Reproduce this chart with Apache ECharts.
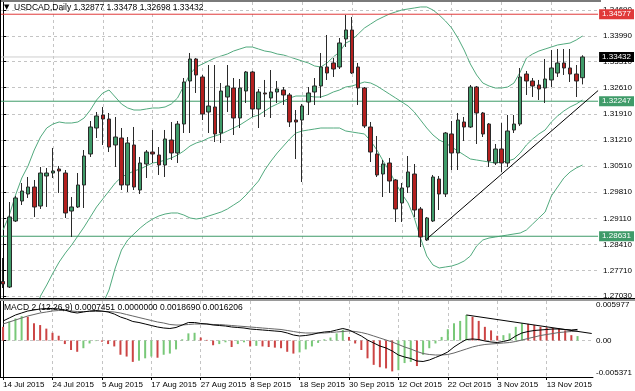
<!DOCTYPE html>
<html><head><meta charset="utf-8">
<script src="https://cdn.jsdelivr.net/npm/echarts@6/dist/echarts.min.js"></script>
<style>html,body{margin:0;padding:0;background:#fff}#c{width:635px;height:391px}</style>
</head><body><div id="c"></div>
<script>
const dates = [
'14 Jul 2015','15 Jul 2015','16 Jul 2015','17 Jul 2015','20 Jul 2015','21 Jul 2015','22 Jul 2015','23 Jul 2015','24 Jul 2015','27 Jul 2015','28 Jul 2015','29 Jul 2015','30 Jul 2015','31 Jul 2015',
'3 Aug 2015','4 Aug 2015','5 Aug 2015','6 Aug 2015','7 Aug 2015','10 Aug 2015','11 Aug 2015','12 Aug 2015','13 Aug 2015','14 Aug 2015','17 Aug 2015','18 Aug 2015','19 Aug 2015','20 Aug 2015','21 Aug 2015','24 Aug 2015','25 Aug 2015','26 Aug 2015','27 Aug 2015','28 Aug 2015','31 Aug 2015',
'1 Sep 2015','2 Sep 2015','3 Sep 2015','4 Sep 2015','7 Sep 2015','8 Sep 2015','9 Sep 2015','10 Sep 2015','11 Sep 2015','14 Sep 2015','15 Sep 2015','16 Sep 2015','17 Sep 2015','18 Sep 2015','21 Sep 2015','22 Sep 2015','23 Sep 2015','24 Sep 2015','25 Sep 2015','28 Sep 2015','29 Sep 2015','30 Sep 2015',
'1 Oct 2015','2 Oct 2015','5 Oct 2015','6 Oct 2015','7 Oct 2015','8 Oct 2015','9 Oct 2015','12 Oct 2015','13 Oct 2015','14 Oct 2015','15 Oct 2015','16 Oct 2015','19 Oct 2015','20 Oct 2015','21 Oct 2015','22 Oct 2015','23 Oct 2015','26 Oct 2015','27 Oct 2015','28 Oct 2015','29 Oct 2015','30 Oct 2015',
'2 Nov 2015','3 Nov 2015','4 Nov 2015','5 Nov 2015','6 Nov 2015','9 Nov 2015','10 Nov 2015','11 Nov 2015','12 Nov 2015','13 Nov 2015','16 Nov 2015','17 Nov 2015','18 Nov 2015','19 Nov 2015','20 Nov 2015'];
const tickIdx = [0,8,16,24,32,40,48,56,64,72,80,88];
const tickLabels = ['14 Jul 2015','24 Jul 2015','5 Aug 2015','17 Aug 2015','27 Aug 2015','8 Sep 2015','18 Sep 2015','30 Sep 2015','12 Oct 2015','22 Oct 2015','3 Nov 2015','13 Nov 2015'];
const priceTicks = [1.27030,1.27710,1.28410,1.29110,1.29810,1.30510,1.31210,1.31910,1.32610,1.33310,1.33990,1.34690];

const open = [
1.27419,1.27272,1.29040,1.29575,1.29763,1.29950,1.29441,1.30245,1.30325,1.30432,
1.30325,1.29307,1.29415,1.30004,1.30834,1.31530,1.31878,1.31771,1.31075,1.31262,
1.30004,1.31075,1.29870,1.30566,1.30887,1.30807,1.30539,1.31209,1.30861,1.31637,
1.32789,1.33378,1.32896,1.31959,1.32093,1.31396,1.32360,1.32601,1.31798,1.32521,
1.33030,1.32039,1.32468,1.32334,1.32494,1.32548,1.32414,1.31744,1.31744,1.32226,
1.32494,1.32655,1.33164,1.33271,1.33164,1.33914,1.34155,1.33164,1.32601,1.31557,
1.30834,1.30298,1.30593,1.30138,1.29522,1.29950,1.30298,1.29361,1.28531,1.29040,
1.30164,1.29763,1.31370,1.30861,1.31691,1.31557,1.32628,1.31932,1.31637,1.30593,
1.30968,1.30593,1.31477,1.31637,1.32976,1.32789,1.32682,1.32601,1.32816,1.33003,
1.33271,1.33137,1.32976,1.32877];
const high = [
1.28049,1.29548,1.29709,1.30057,1.30218,1.30138,1.30486,1.30459,1.30995,1.30513,
1.30405,1.29682,1.30325,1.30941,1.31718,1.31959,1.32093,1.31932,1.31825,1.31530,
1.31289,1.31557,1.30754,1.30941,1.31477,1.31021,1.31477,1.31691,1.31718,1.32869,
1.33539,1.33405,1.32950,1.33217,1.33217,1.32735,1.33217,1.32869,1.32842,1.33057,
1.33057,1.32575,1.32816,1.33083,1.32789,1.32628,1.32468,1.32012,1.32173,1.32628,
1.32869,1.33539,1.34021,1.33405,1.33940,1.34556,1.34503,1.33271,1.32628,1.31691,
1.31316,1.30673,1.30727,1.30164,1.30057,1.30780,1.30566,1.29415,1.29147,1.30272,
1.30245,1.31423,1.31718,1.31932,1.31825,1.32682,1.32655,1.31959,1.31664,1.31102,
1.31664,1.31878,1.31878,1.33137,1.33057,1.32869,1.32816,1.33378,1.33619,1.33646,
1.33646,1.33646,1.33217,1.33478];
const low = [
1.27245,1.27245,1.29013,1.29468,1.29656,1.29147,1.29361,1.29415,1.30191,1.29790,
1.29120,1.28611,1.29388,1.29388,1.30754,1.31262,1.31075,1.30887,1.30486,1.29870,
1.29816,1.29870,1.29763,1.30191,1.30593,1.30272,1.30218,1.30673,1.30593,1.31396,
1.31396,1.32468,1.31744,1.31396,1.31155,1.31129,1.31959,1.31343,1.31530,1.32200,
1.31825,1.31530,1.31825,1.31798,1.32200,1.32146,1.31557,1.30700,1.30084,1.31878,
1.32146,1.32334,1.32816,1.32896,1.33110,1.33699,1.32976,1.32146,1.31530,1.30620,
1.30218,1.29682,1.29790,1.29013,1.29013,1.29790,1.29147,1.28343,1.28504,1.29013,
1.29334,1.29682,1.30405,1.30405,1.31182,1.31530,1.31102,1.31289,1.30486,1.30539,
1.30352,1.30486,1.31396,1.31584,1.32414,1.32360,1.32280,1.32200,1.32628,1.32896,
1.32950,1.32762,1.32360,1.32698];
const close = [
1.27353,1.29147,1.29656,1.29843,1.29950,1.29415,1.30325,1.30325,1.30379,1.30379,
1.29254,1.29415,1.30004,1.30780,1.31557,1.31852,1.31771,1.31021,1.31289,1.30004,
1.31129,1.29950,1.30593,1.30887,1.30834,1.30539,1.31236,1.30861,1.31637,1.32762,
1.33378,1.32950,1.31905,1.32119,1.31370,1.32521,1.32655,1.31798,1.32601,1.33030,
1.32039,1.32494,1.32441,1.32494,1.32575,1.32414,1.31691,1.31691,1.32119,1.32468,
1.32655,1.33164,1.33003,1.33110,1.33807,1.34155,1.33003,1.32601,1.31584,1.30887,
1.30272,1.30566,1.30111,1.29361,1.29923,1.30352,1.29334,1.28611,1.29120,1.30218,
1.29763,1.31396,1.30861,1.31744,1.31557,1.32628,1.31932,1.31370,1.30646,1.30968,
1.30593,1.31450,1.31637,1.32896,1.32789,1.32655,1.32575,1.32842,1.33137,1.33271,
1.33137,1.32976,1.32789,1.33432];

const bbUpper = [
1.28799,1.29200,1.29736,1.30191,1.30513,1.30941,1.31289,1.31530,1.31637,1.31691,
1.31664,1.31664,1.31691,1.31798,1.32012,1.32280,1.32468,1.32548,1.32360,1.32173,
1.32066,1.32012,1.32012,1.32039,1.32066,1.32066,1.32093,1.32173,1.32334,1.32655,
1.32976,1.33164,1.33244,1.33324,1.33405,1.33458,1.33512,1.33592,1.33646,1.33699,
1.33699,1.33646,1.33592,1.33565,1.33512,1.33485,1.33432,1.33378,1.33324,1.33271,
1.33191,1.33164,1.33271,1.33432,1.33565,1.33806,1.33887,1.34048,1.34208,1.34315,
1.34422,1.34503,1.34583,1.34637,1.34690,1.34717,1.34744,1.34771,1.34771,1.34690,
1.34556,1.34396,1.34208,1.33940,1.33619,1.33244,1.32950,1.32735,1.32655,1.32601,
1.32601,1.32628,1.32735,1.33030,1.33405,1.33512,1.33592,1.33646,1.33699,1.33753,
1.33780,1.33806,1.33887,1.33994];
const bbMiddle = [
1.25600,1.25750,1.25920,1.26110,1.26300,1.26500,1.27031,1.27326,1.27647,1.27942,
1.28183,1.28397,1.28638,1.28879,1.29147,1.29415,1.29629,1.29843,1.30057,1.30218,
1.30298,1.30379,1.30432,1.30513,1.30593,1.30620,1.30673,1.30727,1.30807,1.30914,
1.31048,1.31129,1.31182,1.31262,1.31316,1.31370,1.31450,1.31530,1.31611,1.31718,
1.31825,1.31878,1.31985,1.32093,1.32173,1.32253,1.32334,1.32387,1.32387,1.32387,
1.32360,1.32360,1.32414,1.32494,1.32548,1.32628,1.32655,1.32709,1.32762,1.32735,
1.32655,1.32548,1.32441,1.32334,1.32226,1.32119,1.31959,1.31744,1.31530,1.31343,
1.31209,1.31129,1.31021,1.30914,1.30807,1.30700,1.30673,1.30646,1.30620,1.30593,
1.30620,1.30646,1.30700,1.30861,1.31075,1.31236,1.31370,1.31477,1.31691,1.31852,
1.31985,1.32093,1.32173,1.32280];
const bbLower = [
null,null,null,null,null,null,null,null,null,null,
null,null,null,null,null,null,1.26817,1.27192,1.27781,1.28263,
1.28531,1.28692,1.28852,1.28986,1.29093,1.29174,1.29227,1.29254,1.29254,1.29200,
1.29120,1.29093,1.29120,1.29174,1.29227,1.29281,1.29361,1.29468,1.29575,1.29736,
1.29923,1.30111,1.30405,1.30646,1.30861,1.31048,1.31236,1.31396,1.31450,1.31477,
1.31503,1.31530,1.31530,1.31530,1.31530,1.31450,1.31423,1.31396,1.31370,1.31182,
1.30941,1.30646,1.30379,1.30057,1.29763,1.29522,1.29120,1.28584,1.28102,1.27861,
1.27781,1.27808,1.27834,1.27888,1.27968,1.28102,1.28370,1.28531,1.28584,1.28611,
1.28638,1.28665,1.28692,1.28718,1.28799,1.28959,1.29120,1.29281,1.29709,1.29950,
1.30191,1.30352,1.30459,1.30539];

const resistanceLevel = 1.34577;
const supportLevels = [1.32247, 1.28631];
const lastPrice = 1.33432;
const trendLine = [[68, 1.28558], [95.5, 1.32532]];

const macdUp = [
null,0.0032,0.0037,0.0041,null,null,null,null,null,null,
null,null,null,-0.0013,-0.0005,-0.0001,null,null,null,null,
null,null,-0.0034,-0.0030,-0.0027,null,-0.0024,-0.0022,-0.0015,0.0002,
0.0012,0.0013,null,null,null,-0.0006,-0.0003,null,-0.0006,-0.0003,
null,-0.0009,null,null,null,null,null,null,-0.0020,-0.0015,
-0.0010,-0.0004,0.0002,0.0005,0.0012,0.0018,null,null,null,null,
null,null,null,null,-0.0050,-0.0038,-0.0036,null,-0.0024,-0.0013,
-0.0005,0.0006,0.0019,0.0029,0.0033,0.0043,null,null,null,null,
null,0.0009,0.0012,0.0023,0.0029,null,null,null,null,null,
null,null,null,0.0007451];
const macdDown = [
0.0023,null,null,null,0.0040,0.0029,0.0026,0.0020,0.0013,0.0008,
-0.0006,-0.0016,-0.0019,null,null,null,-0.0002,-0.0006,-0.0010,-0.0024,
-0.0027,-0.0036,null,null,null,-0.0029,null,null,null,null,
null,null,0.0005,0.0001,-0.0008,null,null,-0.0011,null,null,
-0.0010,null,-0.0010,-0.0011,-0.0012,-0.0013,-0.0019,-0.0022,null,null,
null,null,null,null,null,null,0.0006,-0.0005,-0.0016,-0.0030,
-0.0041,-0.0045,-0.0047,-0.0052,null,null,null,-0.0043,null,null,
null,null,null,null,null,null,0.0040,0.0033,0.0023,0.0017,
0.0008,null,null,null,null,0.0028,0.0026,0.0023,0.0022,0.0021,
0.0020,0.0017,0.0009,null];
const macdMain = [
0.003283,0.003788,0.004293,0.004630,0.004966,0.005135,0.005303,0.005387,0.005387,0.005303,
0.005135,0.004798,0.004630,0.004798,0.004966,0.005050,0.004966,0.004798,0.004461,0.003956,
0.003620,0.003199,0.003030,0.002778,0.002525,0.002273,0.002104,0.002020,0.002189,0.002609,
0.003030,0.003030,0.002862,0.002778,0.002609,0.002525,0.002441,0.002273,0.002189,0.002104,
0.001936,0.001852,0.001768,0.001684,0.001599,0.001515,0.001263,0.000926,0.000758,0.000842,
0.001010,0.001263,0.001431,0.001515,0.001768,0.002020,0.001768,0.001263,0.000758,0.000084,
-0.000421,-0.000926,-0.001263,-0.001768,-0.002441,-0.002778,-0.003030,-0.003451,-0.003535,-0.003283,
-0.002862,-0.002441,-0.001936,-0.001094,-0.000421,0.000168,0.000253,0.000168,-0.000084,-0.000253,
-0.000337,-0.000168,0.000084,0.000758,0.001263,0.001515,0.001684,0.001768,0.001852,0.001936,
0.001936,0.001852,0.001768,0.001869];
const macdSignal = [
0.002778,0.003115,0.003451,0.003788,0.004125,0.004377,0.004630,0.004798,0.004966,0.005050,
0.005050,0.004966,0.004882,0.004882,0.004882,0.004882,0.004882,0.004882,0.004798,0.004630,
0.004377,0.004125,0.003872,0.003620,0.003367,0.003115,0.002946,0.002694,0.002609,0.002609,
0.002694,0.002778,0.002778,0.002778,0.002694,0.002694,0.002609,0.002525,0.002441,0.002357,
0.002273,0.002189,0.002104,0.002020,0.001936,0.001852,0.001684,0.001515,0.001347,0.001263,
0.001263,0.001263,0.001263,0.001347,0.001431,0.001515,0.001599,0.001515,0.001347,0.001094,
0.000758,0.000421,0.000084,-0.000253,-0.000673,-0.001094,-0.001431,-0.001852,-0.002189,-0.002357,
-0.002441,-0.002441,-0.002357,-0.002104,-0.001768,-0.001431,-0.001094,-0.000842,-0.000673,-0.000589,
-0.000505,-0.000421,-0.000337,-0.000168,0.000084,0.000337,0.000589,0.000842,0.001010,0.001178,
0.001347,0.001431,0.001515,0.0016206];
const macdTrend = [[75, 0.0043], [95.3, 0.00118]];
const macdTicks = [0.005977, 0, -0.005371];
const macdTickText = ['0.005977', '0.00', '-0.005371'];

const FONT = 'Liberation Sans';
const cats = dates.concat(['', '']);
const candles = open.map((o, i) => [o, close[i], low[i], high[i]]);
const dash = {color: '#c4c4c4', type: [3, 3], width: 1};

const chart = echarts.init(document.getElementById('c'), null, {renderer: 'canvas'});
// horizontal level drawn as a 2-point line series across the x range, with a price tag at its end
const levelSeries = (v, color, bg) => ({
  type: 'line', xAxisIndex: 1, yAxisIndex: 0, data: [[-0.5, v], [95.5, v]], symbol: 'none', silent: true,
  lineStyle: {color: color, width: 1}, z: 4, clip: false,
  endLabel: {show: true, formatter: v.toFixed(5), backgroundColor: bg, color: '#fff', fontSize: 8,
    fontFamily: FONT, padding: [1, 3, 1, 3], distance: 1}
});

chart.setOption({
  animation: false,
  backgroundColor: '#fff',
  grid: [
    {left: 0, top: 2, width: 601, height: 296},
    {left: 0, top: 301, width: 601, height: 76}
  ],
  xAxis: [
    {type: 'category', gridIndex: 0, data: cats, show: false},
    {type: 'value', gridIndex: 0, min: -0.5, max: 95.5, axisLine: {show: false},
     axisTick: {show: false, customValues: tickIdx}, axisLabel: {show: false},
     splitLine: {show: true, lineStyle: dash}},
    {type: 'category', gridIndex: 1, data: cats, show: false},
    {type: 'value', gridIndex: 1, min: -0.5, max: 95.5, position: 'bottom',
     axisLine: {show: true, onZero: false, lineStyle: {color: '#000'}},
     axisTick: {show: true, customValues: tickIdx, length: 3, lineStyle: {color: '#000'}},
     axisLabel: {show: true, customValues: tickIdx, align: 'left', fontSize: 8, fontFamily: FONT,
       margin: 4, color: '#000', formatter: v => tickLabels[tickIdx.indexOf(Math.round(v))] || ''},
     splitLine: {show: true, lineStyle: dash}}
  ],
  yAxis: [
    {type: 'value', gridIndex: 0, position: 'right', min: 1.269776, max: 1.349044, scale: true,
     axisLine: {show: true, lineStyle: {color: '#000'}},
     axisTick: {show: true, customValues: priceTicks, length: 3, lineStyle: {color: '#000'}},
     axisLabel: {customValues: priceTicks, formatter: v => v.toFixed(5), fontSize: 8, fontFamily: FONT, margin: 5, color: '#000'},
     splitLine: {show: true, lineStyle: dash}},
    {type: 'value', gridIndex: 1, position: 'right', min: -0.006145, max: 0.00665, scale: true,
     axisLine: {show: true, lineStyle: {color: '#000'}},
     axisTick: {show: true, customValues: [0], length: 3, lineStyle: {color: '#000'}},
     axisLabel: {customValues: macdTicks, formatter: v => macdTickText[macdTicks.indexOf(v)] || '', fontSize: 8, fontFamily: FONT, margin: 3, color: '#000'},
     splitLine: {show: true, lineStyle: dash}}
  ],
  series: [
    levelSeries(lastPrice, '#cfcfcf', '#000'),
    levelSeries(supportLevels[0], '#3f9b69', '#3f9b69'),
    levelSeries(supportLevels[1], '#3f9b69', '#3f9b69'),
    levelSeries(resistanceLevel, '#e03a3a', '#e03a3a'),
    {type: 'line', xAxisIndex: 0, yAxisIndex: 0, data: bbUpper, symbol: 'none', lineStyle: {color: '#52aa7e', width: 1}, z: 3},
    {type: 'line', xAxisIndex: 0, yAxisIndex: 0, data: bbMiddle, symbol: 'none', lineStyle: {color: '#52aa7e', width: 1}, z: 3},
    {type: 'line', xAxisIndex: 0, yAxisIndex: 0, data: bbLower, symbol: 'none', lineStyle: {color: '#52aa7e', width: 1}, z: 3},
    {type: 'candlestick', xAxisIndex: 0, yAxisIndex: 0, data: candles, barWidth: 4, z: 5,
     itemStyle: {color: '#3f9b69', color0: '#b3201f', borderColor: '#2a2a2a', borderColor0: '#2a2a2a', borderWidth: 1}},
    {type: 'line', xAxisIndex: 1, yAxisIndex: 0, data: trendLine, symbol: 'none', lineStyle: {color: '#000', width: 1}, z: 6},
    {type: 'bar', xAxisIndex: 2, yAxisIndex: 1, data: macdUp, barWidth: 2, barGap: '-100%', itemStyle: {color: '#78c878'}},
    {type: 'bar', xAxisIndex: 2, yAxisIndex: 1, data: macdDown, barWidth: 2, barGap: '-100%', itemStyle: {color: '#cc4444'}},
    {type: 'line', xAxisIndex: 2, yAxisIndex: 1, data: macdSignal, symbol: 'none', lineStyle: {color: '#666', width: 1}, z: 4},
    {type: 'line', xAxisIndex: 2, yAxisIndex: 1, data: macdMain, symbol: 'none', lineStyle: {color: '#000', width: 1}, z: 4},
    {type: 'line', xAxisIndex: 3, yAxisIndex: 1, data: macdTrend, symbol: 'none', lineStyle: {color: '#000', width: 1}, z: 5}
  ],
  graphic: [
    {type: 'rect', shape: {x: 0, y: 0, width: 601, height: 2}, style: {fill: '#7a7a7a'}, z: 10},
    {type: 'rect', shape: {x: 0, y: 0, width: 1, height: 378}, style: {fill: '#000'}, z: 10},
    {type: 'rect', shape: {x: 0, y: 298, width: 635, height: 1}, style: {fill: '#000'}, z: 10},
    {type: 'rect', shape: {x: 0, y: 299, width: 635, height: 2}, style: {fill: '#9a9a9a'}, z: 10},
    {type: 'text', x: 4, y: 4, style: {text: '▼', fontSize: 7, fill: '#000', fontFamily: 'DejaVu Sans'}, z: 11},
    {type: 'text', x: 14, y: 3, style: {text: 'USDCAD,Daily 1.32877 1.33478 1.32698 1.33432', fontSize: 8.5, fill: '#000', fontFamily: FONT}, z: 11},
    {type: 'text', x: 4, y: 303, style: {text: 'MACD 2 (12,26,9) 0.0007451 0.0000000 0.0018690 0.0016206', fontSize: 8.5, fill: '#000', fontFamily: FONT}, z: 11}
  ]
});
</script></body></html>
